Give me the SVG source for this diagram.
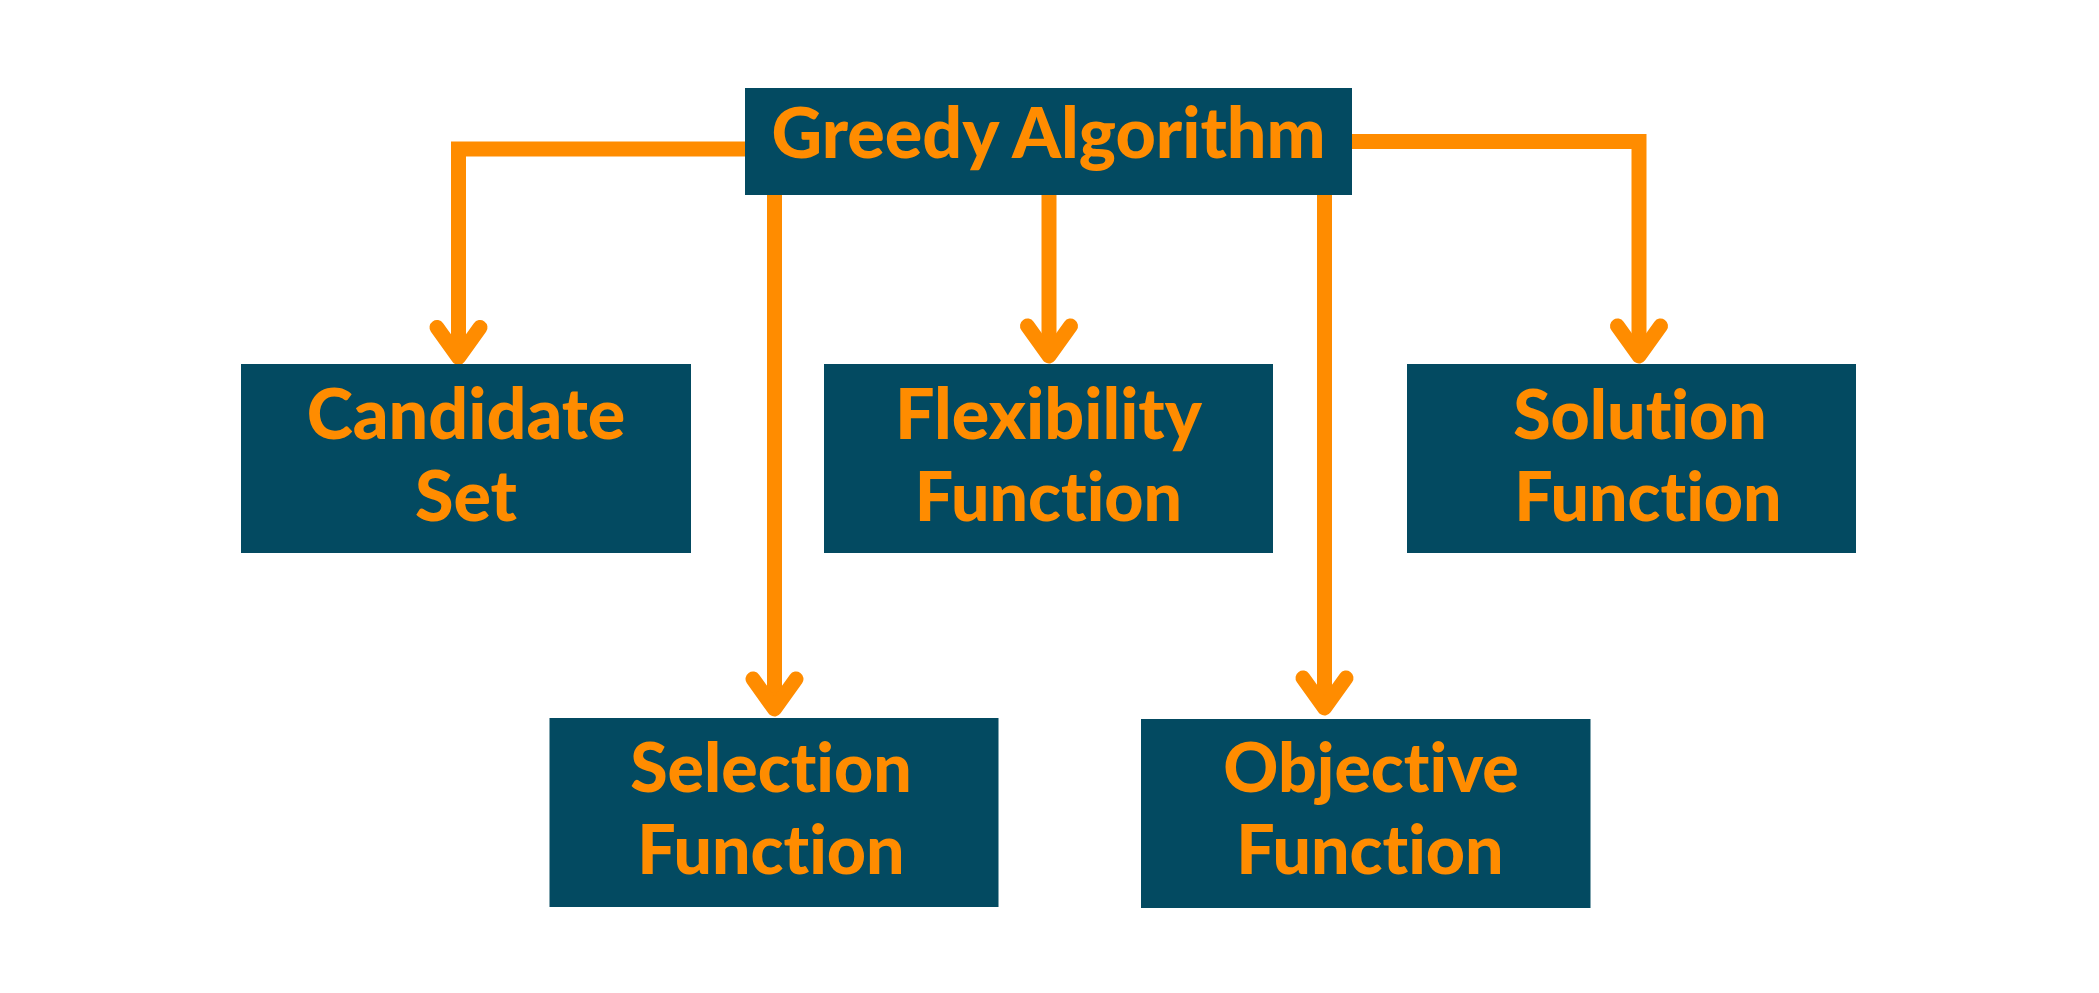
<svg xmlns="http://www.w3.org/2000/svg" width="2099" height="993" viewBox="0 0 2099 993">
<style>
.box{fill:#034A61}
.lbl{fill:#FF8C00;font-family:Lato,"Liberation Sans",sans-serif;font-weight:900;font-size:70px;text-anchor:middle;font-variant-ligatures:none;font-feature-settings:"liga" 0,"clig" 0}
.sm{font-size:68px}
.conn{fill:none;stroke:#FF8C00;stroke-width:15;stroke-linejoin:miter;stroke-linecap:butt}
.head{fill:none;stroke:#FF8C00;stroke-width:15;stroke-linejoin:round;stroke-linecap:round}
</style>
<defs>
<marker id="chev" markerUnits="userSpaceOnUse" orient="auto" overflow="visible" markerWidth="10" markerHeight="10" refX="0" refY="0">
<path class="head" d="M-30,-21.5 L0,0 L-30,21.5"/>
</marker>
</defs>
<rect width="2099" height="993" fill="#ffffff"/>
<g id="connectors">
<path class="conn" d="M745,149 H458.5 V357.5" marker-end="url(#chev)"/>
<path class="conn" d="M774.5,193 V709" marker-end="url(#chev)"/>
<path class="conn" d="M1049,195 V356" marker-end="url(#chev)"/>
<path class="conn" d="M1324.5,195 V708" marker-end="url(#chev)"/>
<path class="conn" d="M1352,141.5 H1639 V356" marker-end="url(#chev)"/>
</g>
<g id="node-greedy">
<rect class="box" x="745" y="88" width="607" height="107"/>
<text class="lbl" x="1048.5" y="157.7">Greedy Algorithm</text>
</g>
<g id="node-candidate">
<rect class="box" x="241" y="364" width="450" height="189"/>
<text class="lbl" x="466" y="439">Candidate</text>
<text class="lbl" x="466" y="521">Set</text>
</g>
<g id="node-flexibility">
<rect class="box" x="824" y="364" width="449" height="189"/>
<text class="lbl" x="1048.5" y="439">Flexibility</text>
<text class="lbl sm" x="1048.5" y="521">Function</text>
</g>
<g id="node-solution">
<rect class="box" x="1407" y="364" width="449" height="189"/>
<text class="lbl sm" x="1640" y="439">Solution</text>
<text class="lbl sm" x="1648" y="521">Function</text>
</g>
<g id="node-selection">
<rect class="box" x="549.5" y="718" width="449" height="189"/>
<text class="lbl sm" x="771" y="792">Selection</text>
<text class="lbl sm" x="771" y="874">Function</text>
</g>
<g id="node-objective">
<rect class="box" x="1141" y="719" width="449.5" height="189"/>
<text class="lbl sm" x="1371" y="792">Objective</text>
<text class="lbl sm" x="1370" y="874">Function</text>
</g>
</svg>
